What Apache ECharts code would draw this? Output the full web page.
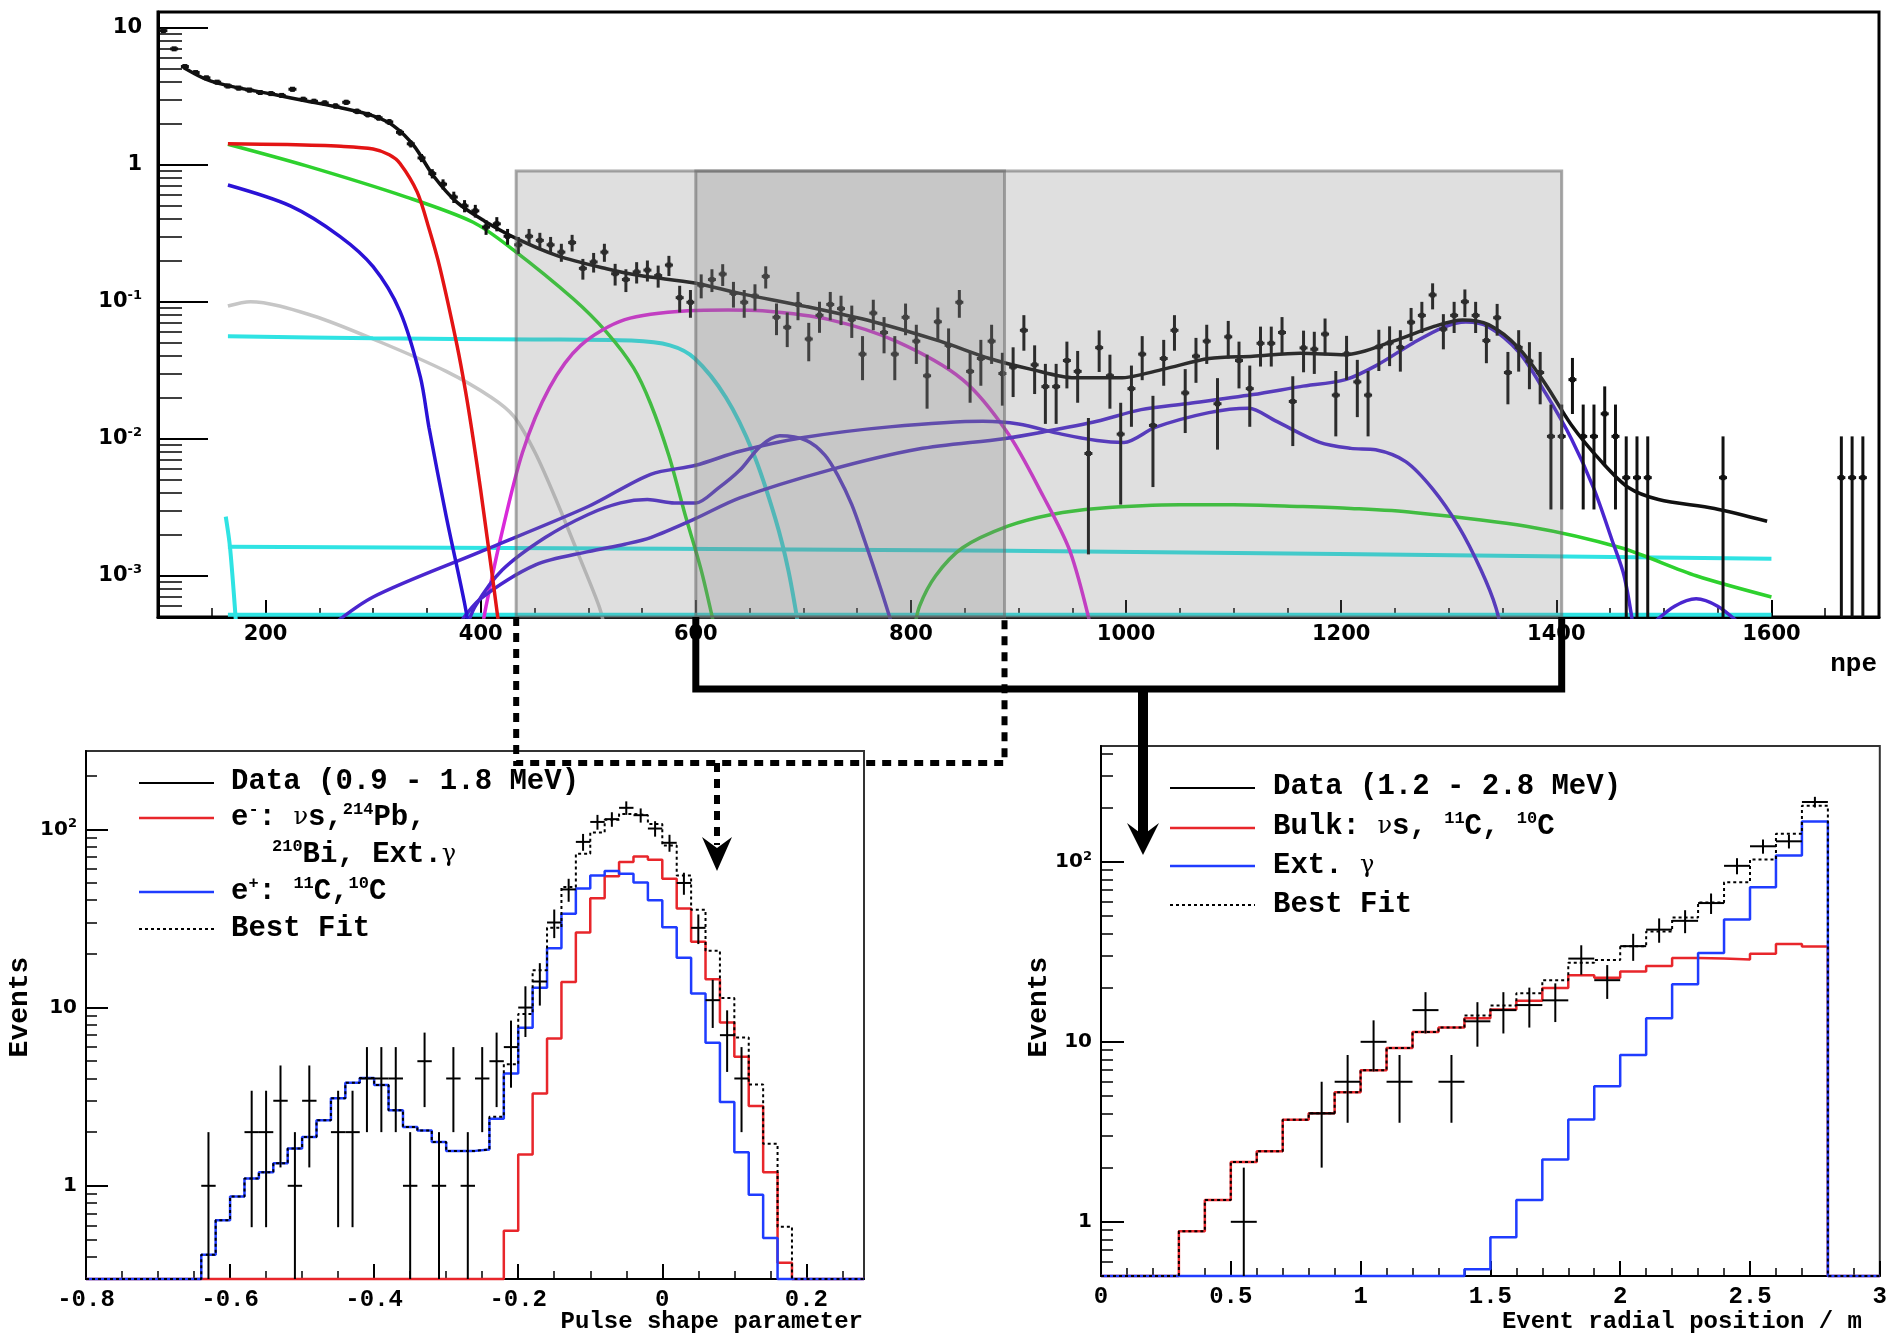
<!DOCTYPE html>
<html>
<head>
<meta charset="utf-8">
<title>npe spectrum, pulse shape and radial fits</title>
<script src="https://cdn.jsdelivr.net/npm/echarts@6.0.0/dist/echarts.min.js"></script>
<style>
  html, body { margin: 0; padding: 0; background: #fff; }
  #main { width: 1890px; height: 1336px; }
</style>
</head>
<body>
<div id="main"></div>
<script>
// ---------- top panel: spectrum in npe, 10 npe bins starting at 100 ----------
var npeBinLow = 100;
var npeBinWidth = 10;
var npeOneCount = 0.0052;   // rate that one event gives in a bin
var npeRate = [
  9.5, 7.0, 5.2, 4.7, 4.3, 4.0, 3.75, 3.62, 3.5, 3.36,
  3.3, 3.2, 3.55, 3.0, 2.9, 2.82, 2.68, 2.85, 2.45, 2.32,
  2.2, 2.05, 1.72, 1.42, 1.12, 0.86, 0.72, 0.58, 0.50, 0.46,
  0.35, 0.37, 0.30, 0.26, 0.30, 0.28, 0.26, 0.23, 0.27, 0.175,
  0.195, 0.23, 0.16, 0.145, 0.165, 0.17, 0.155, 0.185, 0.107, 0.099,
  0.132, 0.145, 0.159, 0.115, 0.099, 0.110, 0.153, 0.077, 0.065, 0.0955,
  0.0534, 0.0796, 0.0955, 0.089, 0.074, 0.0414, 0.0826, 0.0596, 0.0414, 0.0769,
  0.0515, 0.0288, 0.0714, 0.048, 0.099, 0.031, 0.0385, 0.0515, 0.0299, 0.0333,
  0.0618, 0.0346, 0.024, 0.024, 0.0372, 0.031, 0.0078, 0.0462, 0.0288, 0.0108,
  0.0232, 0.0414, 0.0125, 0.0385, 0.0618, 0.0216, 0.040, 0.0515, 0.018, 0.0554,
  0.0372, 0.0232, 0.0497, 0.0497, 0.0596, 0.0187, 0.046, 0.045, 0.058, 0.0208,
  0.0416, 0.026, 0.0208, 0.0468, 0.050, 0.0464, 0.0708, 0.0794, 0.112, 0.063,
  0.0794, 0.100, 0.0794, 0.052, 0.0764, 0.0304, 0.0464, 0.0368, 0.0304, 0.0104,
  0.0104, 0.027, 0.0104, 0.0104, 0.0152, 0.0104, 0.0052, 0.0052, 0.0052, 0,
  0, 0, 0, 0, 0, 0.0052, 0, 0, 0, 0,
  0, 0, 0, 0, 0, 0, 0.0052, 0.0052, 0.0052, 0
];

// fit components, [npe, rate]
var fitTotal = [[124,5.1],[145,4.19],[167,3.74],[207,3.26],[238,2.91],[269,2.61],[300,2.27],[319,1.92],[338,1.37],[356,0.83],[378,0.53],[403,0.39],[434,0.287],[471,0.217],[517,0.174],[548,0.155],[599,0.137],[641,0.115],[703,0.092],[765,0.0714],[827,0.0515],[873,0.0385],[911,0.0322],[952,0.0278],[994,0.0278],[1035,0.0322],[1077,0.0385],[1118,0.040],[1162,0.042],[1204,0.041],[1250,0.052],[1285,0.0655],[1313,0.0735],[1337,0.068],[1365,0.046],[1390,0.025],[1414,0.0126],[1442,0.0068],[1467,0.0044],[1495,0.0036],[1547,0.0031],[1596,0.0025]];
var fitRed = [[165,1.42],[220,1.40],[270,1.36],[300,1.30],[315,1.18],[325,1.02],[341,0.63],[352,0.34],[362,0.178],[378,0.048],[386,0.022],[393,0.01],[400,0.0042],[406,0.0019],[412,0.00085],[418,0.00037]];
var fitGreenLow = [[165,1.41],[238,0.98],[331,0.58],[393,0.38],[430,0.24],[486,0.105],[517,0.06],[542,0.033],[558,0.018],[575,0.0075],[590,0.0028],[605,0.0011],[618,0.0004]];
var fitGreenHigh = [[803,0.0004],[808,0.0006],[823,0.001],[848,0.0016],[890,0.0023],[931,0.0028],[973,0.0031],[1050,0.0033],[1100,0.0033],[1162,0.0032],[1209,0.0031],[1267,0.0029],[1372,0.0023],[1460,0.0016],[1530,0.001],[1600,0.0007]];
var fitBlueLow = [[165,0.71],[223,0.5],[269,0.3],[300,0.18],[325,0.085],[344,0.028],[352,0.012],[368,0.0027],[385,0.00063],[392,0.0003]];
var fitGray = [[165,0.093],[186,0.1],[244,0.079],[306,0.051],[368,0.031],[410,0.02],[431,0.0145],[451,0.0078],[472,0.0033],[493,0.0013],[510,0.0006],[516,0.0004]];
var fitCyanHigh = [[165,0.056],[300,0.054],[450,0.053],[540,0.052],[576,0.048],[599,0.0385],[628,0.02],[653,0.008],[674,0.0026],[686,0.0011],[696,0.0004]];
var fitCyanFlat = [[165,0.00163],[890,0.00152],[1600,0.00133]];
var fitCyanSpike = [[163,0.0027],[167,0.0016],[173,0.0004]];
var fitCyanFloor = [[165,0.00052],[1600,0.00052]];
var fitMagenta = [[401,0.0004],[405,0.0006],[418,0.0018],[439,0.008],[464,0.0236],[493,0.048],[534,0.074],[593,0.086],[630,0.087],[662,0.0857],[724,0.074],[786,0.0515],[848,0.027],[890,0.011],[923,0.0038],[948,0.0015],[968,0.0004]];
var fitIndigoWave = [[256,0.0004],[300,0.0007],[400,0.0015],[500,0.0032],[558,0.0055],[600,0.0064],[641,0.0081],[700,0.0102],[780,0.0122],[867,0.0134],[900,0.0128],[940,0.0108],[973,0.0097],[998,0.0094],[1027,0.0121],[1077,0.0155],[1114,0.0167],[1139,0.0135],[1180,0.0094],[1209,0.0085],[1232,0.0083],[1260,0.0068],[1285,0.0043],[1309,0.0023],[1330,0.0011],[1344,0.00058],[1352,0.0003]];
var fitIndigoHump = [[386,0.0004],[395,0.0006],[420,0.0011],[460,0.0019],[500,0.0028],[530,0.0034],[555,0.0036],[580,0.0034],[600,0.0034],[620,0.0043],[641,0.0059],[660,0.0088],[678,0.0105],[703,0.0097],[720,0.0076],[732,0.0054],[745,0.0033],[757,0.0018],[772,0.0008],[784,0.0004]];
var fitIndigoPeak = [[376,0.0004],[400,0.00068],[451,0.0012],[500,0.0015],[534,0.0017],[558,0.0019],[599,0.0026],[641,0.0037],[724,0.0059],[807,0.0084],[886,0.0100],[923,0.0112],[973,0.0134],[1014,0.0163],[1056,0.018],[1118,0.021],[1162,0.024],[1204,0.027],[1232,0.034],[1267,0.05],[1295,0.065],[1316,0.071],[1337,0.0655],[1365,0.043],[1390,0.0215],[1414,0.01],[1435,0.0043],[1452,0.0018],[1463,0.001],[1472,0.0004]];
var fitIndigoTail = [[1490,0.00045],[1510,0.0006],[1530,0.00068],[1550,0.0006],[1570,0.00045]];

// energy windows shaded on the spectrum (npe)
var psdWindow = [433, 887];
var radialWindow = [600, 1405];
var windowTop = 0.9;

// ---------- bottom left: pulse shape parameter, 0.02 bins from -0.8 ----------
var psdBinLow = -0.8;
var psdBinWidth = 0.02;
var psdCounts = [
  0, 0, 0, 0, 0, 0, 0, 0, 1, 0,
  0, 2, 2, 3, 1, 3, 0, 2, 2, 4,
  4, 4, 1, 5, 1, 4, 1, 4, 5, 6,
  10, 14, 30, 46, 85, 110, 114, 132, 120, 101,
  84, 50, 28, 11, 7, 4, 0, 0, 0, 0,
  0, 0, 0, 0
];
var psdElectron = [
  0, 0, 0, 0, 0, 0, 0, 0, 0, 0,
  0, 0, 0, 0, 0, 0, 0, 0, 0, 0,
  0, 0, 0, 0, 0, 0, 0, 0, 0, 0.56,
  1.5, 3.3, 6.7, 13.9, 26.4, 41, 54.5, 65.5, 70.3, 67.5,
  52.8, 36, 23.4, 14.4, 8.25, 5.3, 2.8, 1.19, 0.37, 0,
  0, 0, 0, 0
];
var psdPositron = [
  0, 0, 0, 0, 0, 0, 0, 0, 0.41, 0.64,
  0.87, 1.10, 1.19, 1.34, 1.62, 1.88, 2.33, 3.10, 3.78, 4.03,
  3.68, 2.65, 2.14, 2.04, 1.76, 1.57, 1.57, 1.60, 2.38, 4.27,
  7.7, 12.9, 21.5, 33.6, 46.5, 55.1, 58.3, 56.3, 50.3, 40.0,
  28.2, 19.0, 12.0, 6.35, 2.95, 1.54, 0.89, 0.51, 0, 0,
  0, 0, 0, 0
];
var psdBestFit = [
  0, 0, 0, 0, 0, 0, 0, 0, 0.41, 0.64,
  0.87, 1.10, 1.19, 1.34, 1.62, 1.88, 2.33, 3.10, 3.78, 4.03,
  3.68, 2.65, 2.14, 2.04, 1.76, 1.57, 1.57, 1.60, 2.44, 4.8,
  9.2, 16.2, 28, 47.5, 73, 96, 113, 122, 120, 107,
  81, 55, 35.4, 20.8, 11.3, 6.8, 3.7, 1.72, 0.59, 0,
  0, 0, 0, 0
];

// ---------- bottom right: event radius, 0.1 m bins from 0 ----------
var radBinLow = 0;
var radBinWidth = 0.1;
var radCounts = [0, 0, 0, 0, 0, 1, 0, 0, 4, 6, 10, 6, 15, 6, 13, 15, 16, 17, 29, 22, 34, 42, 47, 59, 95, 122, 130, 215, 0, 0];
var radBulk = [0, 0, 0, 0.885, 1.32, 2.15, 2.47, 3.69, 4.01, 5.25, 6.96, 9.25, 11.35, 12.0, 13.5, 15.1, 16.9, 19.9, 23.4, 22.7, 24.6, 26.4, 29.2, 29.0, 28.7, 30.9, 34.9, 33.8, 0, 0];
var radExternal = [0, 0, 0, 0, 0, 0, 0, 0, 0, 0, 0, 0, 0, 0, 0.545, 0.82, 1.32, 2.22, 3.7, 5.67, 8.45, 13.5, 20.9, 31.1, 47.8, 72.2, 108.5, 167.5, 0, 0];
var radBestFit = [0, 0, 0, 0.885, 1.32, 2.15, 2.47, 3.69, 4.01, 5.25, 6.96, 9.25, 11.35, 12.0, 14.0, 15.9, 18.6, 22.0, 27.5, 28.5, 34.0, 41.0, 49.0, 59.5, 77, 103, 143, 205, 0, 0];

// axis ticks
var npeTicks = [200, 400, 600, 800, 1000, 1200, 1400, 1600];
var powerTicks = [0.001, 0.01, 0.1, 1, 10, 100];
var psdTicks = [-0.8, -0.6, -0.4, -0.2, 0, 0.2];
var radTicks = [0, 0.5, 1, 1.5, 2, 2.5, 3];

var TOP_YMIN = 5e-4, TOP_YMAX = 13;
var PSD_YMIN = 0.3, PSD_YMAX = 275;
var RAD_YMIN = 0.5, RAD_YMAX = 440;

// ---------- helpers ----------
function logMinors(lo, hi) {
  var out = [];
  for (var e = -4; e <= 3; e++) {
    for (var k = 2; k <= 9; k++) {
      var v = k * Math.pow(10, e);
      if (v > lo * 1.0001 && v < hi) out.push(+v.toPrecision(3));
    }
  }
  return out;
}
function linMinors(lo, hi, step, majorStep) {
  var out = [];
  var n = Math.round((hi - lo) / step);
  for (var i = 0; i <= n; i++) {
    var v = +(lo + i * step).toFixed(4);
    var r = v / majorStep;
    if (Math.abs(r - Math.round(r)) > 1e-6) out.push(v);
  }
  return out;
}
function histPoints(values, low, width, floor) {
  var pts = values.map(function (v, i) { return [low + i * width, v > 0 ? v : floor]; });
  var last = values[values.length - 1];
  pts.push([low + values.length * width, last > 0 ? last : floor]);
  return pts;
}
function countPoints(counts, low, width, floor) {
  var pts = [];
  counts.forEach(function (n, i) {
    if (n <= 0) return;
    var e = Math.sqrt(n);
    pts.push([low + (i + 0.5) * width, n, Math.max(n - e, floor), n + e, width / 2]);
  });
  return pts;
}
function ratePoints() {
  var pts = [];
  npeRate.forEach(function (v, i) {
    if (v <= 0) return;
    var e = Math.sqrt(v * npeOneCount);
    pts.push([npeBinLow + (i + 0.5) * npeBinWidth, v, Math.max(v - e, TOP_YMIN), v + e]);
  });
  return pts;
}

var monoBold = 'Liberation Mono';
var sansBold = 'DejaVu Sans';

function supLabel(fs, ss) {
  return {
    b: { fontFamily: sansBold, fontWeight: 'bold', fontSize: fs, color: '#000', lineHeight: fs + 4 },
    s: { fontFamily: sansBold, fontWeight: 'bold', fontSize: ss, color: '#000', verticalAlign: 'top', lineHeight: ss }
  };
}
function powLabel(v) {
  var e = Math.round(Math.log10(v));
  if (e === 0) return '{b|1}';
  if (e === 1) return '{b|10}';
  return '{b|10}{s|' + e + '}';
}

function xMajor(grid, min, max, ticks, len, fmt, font, fs, margin, lw) {
  return {
    type: 'value', gridIndex: grid, min: min, max: max, position: 'bottom',
    axisLine: { show: true, onZero: false, lineStyle: { color: '#000', width: lw } },
    axisTick: { show: true, inside: true, length: len, customValues: ticks, lineStyle: { color: '#000', width: 2 } },
    axisLabel: { show: true, customValues: ticks, formatter: fmt, fontFamily: font, fontWeight: 'bold', fontSize: fs, color: '#000', margin: margin },
    splitLine: { show: false }
  };
}
function xMinor(grid, min, max, ticks, len) {
  return {
    type: 'value', gridIndex: grid, min: min, max: max, position: 'bottom',
    axisLine: { show: false, onZero: false },
    axisTick: { show: true, inside: true, length: len, customValues: ticks, lineStyle: { color: '#000', width: 1.5 } },
    axisLabel: { show: false },
    splitLine: { show: false }
  };
}
function yMajor(grid, min, max, len, fs, ss, margin, lw) {
  var ticks = powerTicks.filter(function (v) { return v >= min && v <= max; });
  return {
    type: 'log', logBase: 10, gridIndex: grid, min: min, max: max, position: 'left',
    axisLine: { show: true, onZero: false, lineStyle: { color: '#000', width: lw } },
    axisTick: { show: true, inside: true, length: len, customValues: ticks, lineStyle: { color: '#000', width: 2 } },
    axisLabel: { show: true, margin: margin, customValues: ticks, formatter: powLabel, rich: supLabel(fs, ss) },
    splitLine: { show: false }
  };
}
function yMinor(grid, min, max, len) {
  return {
    type: 'log', logBase: 10, gridIndex: grid, min: min, max: max, position: 'left',
    axisLine: { show: false, onZero: false },
    axisTick: { show: true, inside: true, length: len, customValues: logMinors(min, max), lineStyle: { color: '#000', width: 1.5 } },
    axisLabel: { show: false },
    splitLine: { show: false }
  };
}

function curve(data, color, width, z) {
  return {
    type: 'line', xAxisIndex: 0, yAxisIndex: 0, data: data,
    showSymbol: false, smooth: 0.3, clip: true, silent: true,
    lineStyle: { color: color, width: width || 3.5 }, z: z || 3
  };
}
function hist(ax, values, low, width, floor, color, lw, dash, z) {
  return {
    type: 'line', xAxisIndex: ax, yAxisIndex: ax, step: 'end', clip: false, silent: true,
    data: histPoints(values, low, width, floor), showSymbol: false,
    lineStyle: { color: color, width: lw, type: dash || 'solid' }, z: z
  };
}
function countBars(ax, pts) {
  return {
    type: 'custom', xAxisIndex: ax, yAxisIndex: ax, data: pts, z: 6, silent: true,
    encode: { x: 0, y: 1 },
    renderItem: function (params, api) {
      var x = api.value(0), y = api.value(1), hw = api.value(4);
      var p = api.coord([x, y]), lo = api.coord([x, api.value(2)]), hi = api.coord([x, api.value(3)]);
      var a = api.coord([x - hw, y]), b = api.coord([x + hw, y]);
      return { type: 'group', children: [
        { type: 'line', shape: { x1: p[0], y1: hi[1], x2: p[0], y2: lo[1] }, style: { stroke: '#000', lineWidth: 2 } },
        { type: 'line', shape: { x1: a[0], y1: p[1], x2: b[0], y2: p[1] }, style: { stroke: '#000', lineWidth: 2 } }
      ] };
    }
  };
}

var chart = echarts.init(document.getElementById('main'), null, { renderer: 'canvas' });

var series = [
  curve(fitGray, '#c6c6c6', 3.5, 2),
  curve(fitCyanHigh, '#2fe3e3', 4, 3),
  curve(fitCyanFlat, '#2fe3e3', 4, 3),
  curve(fitCyanSpike, '#2fe3e3', 4, 3),
  curve(fitCyanFloor, '#2fe3e3', 4, 3),
  curve(fitGreenLow, '#2ed12e', 3.5, 3),
  curve(fitGreenHigh, '#2ed12e', 3.5, 3),
  curve(fitMagenta, '#d92ad9', 3.5, 3),
  curve(fitIndigoWave, '#4a26cf', 3.5, 3),
  curve(fitIndigoHump, '#4a26cf', 3.5, 3),
  curve(fitIndigoPeak, '#4a26cf', 3.5, 3),
  curve(fitIndigoTail, '#4a26cf', 3.5, 3),
  curve(fitBlueLow, '#2a12d6', 3.5, 3),
  curve(fitRed, '#e31414', 3.5, 3),
  curve(fitTotal, '#111', 3.5, 4),
  {
    type: 'custom', xAxisIndex: 0, yAxisIndex: 0, data: ratePoints(), z: 5, silent: true,
    encode: { x: 0, y: 1 },
    renderItem: function (params, api) {
      var x = api.value(0);
      var p = api.coord([x, api.value(1)]), lo = api.coord([x, api.value(2)]), hi = api.coord([x, api.value(3)]);
      return { type: 'group', children: [
        { type: 'line', shape: { x1: p[0], y1: hi[1], x2: p[0], y2: lo[1] }, style: { stroke: '#111', lineWidth: 3 } },
        { type: 'line', shape: { x1: p[0] - 4, y1: p[1], x2: p[0] + 4, y2: p[1] }, style: { stroke: '#111', lineWidth: 3 } },
        { type: 'rect', shape: { x: p[0] - 2.5, y: p[1] - 2.5, width: 5, height: 5 }, style: { fill: '#111' } }
      ] };
    }
  },
  {
    type: 'custom', xAxisIndex: 0, yAxisIndex: 0, z: 10, silent: true,
    data: [[psdWindow[0], psdWindow[1], windowTop], [radialWindow[0], radialWindow[1], windowTop]],
    encode: { x: [0, 1], y: 2 },
    renderItem: function (params, api) {
      var a = api.coord([api.value(0), api.value(2)]);
      var b = api.coord([api.value(1), TOP_YMIN]);
      return {
        type: 'rect',
        shape: { x: a[0], y: a[1], width: b[0] - a[0], height: b[1] - a[1] },
        style: { fill: 'rgba(128,128,128,0.25)', stroke: 'rgba(100,100,100,0.55)', lineWidth: 3 }
      };
    }
  },
  // pulse shape panel
  hist(2, psdElectron, psdBinLow, psdBinWidth, PSD_YMIN, '#e8262b', 2.5, 'solid', 3),
  hist(2, psdPositron, psdBinLow, psdBinWidth, PSD_YMIN, '#1f3cff', 2.5, 'solid', 3),
  hist(2, psdBestFit, psdBinLow, psdBinWidth, PSD_YMIN, '#000', 2, [3, 3], 4),
  countBars(2, countPoints(psdCounts, psdBinLow, psdBinWidth, PSD_YMIN)),
  // radial panel
  hist(4, radBulk, radBinLow, radBinWidth, RAD_YMIN, '#e8262b', 2.5, 'solid', 3),
  hist(4, radExternal, radBinLow, radBinWidth, RAD_YMIN, '#1f3cff', 2.5, 'solid', 3),
  hist(4, radBestFit, radBinLow, radBinWidth, RAD_YMIN, '#000', 2, [3, 3], 4),
  countBars(4, countPoints(radCounts, radBinLow, radBinWidth, RAD_YMIN))
];

var numFmt = function (v) { return Math.abs(v) < 1e-9 ? '0' : String(+v.toFixed(1)); };

chart.setOption({
  animation: false,
  backgroundColor: '#fff',
  grid: [
    { left: 158, top: 12, width: 1721, height: 605, show: true, borderColor: '#000', borderWidth: 3 },
    { left: 86, top: 751, width: 778, height: 528, show: true, borderColor: '#333', borderWidth: 2 },
    { left: 1101, top: 746, width: 779, height: 530, show: true, borderColor: '#333', borderWidth: 2 }
  ],
  xAxis: [
    xMajor(0, 100, 1700, npeTicks, 17, function (v) { return String(v); }, sansBold, 21, 7, 3),
    xMinor(0, 100, 1700, linMinors(150, 1650, 50, 200), 9),
    xMajor(1, -0.8, 0.28, psdTicks, 15, numFmt, monoBold, 24, 9, 2),
    xMinor(1, -0.8, 0.28, linMinors(-0.75, 0.25, 0.05, 0.2), 8),
    xMajor(2, 0, 3, radTicks, 15, numFmt, monoBold, 24, 9, 2),
    xMinor(2, 0, 3, linMinors(0.1, 2.9, 0.1, 0.5), 8)
  ],
  yAxis: [
    yMajor(0, TOP_YMIN, TOP_YMAX, 50, 21, 13, 16, 3),
    yMinor(0, TOP_YMIN, TOP_YMAX, 24),
    yMajor(1, PSD_YMIN, PSD_YMAX, 22, 20, 13, 9, 2),
    yMinor(1, PSD_YMIN, PSD_YMAX, 11),
    yMajor(2, RAD_YMIN, RAD_YMAX, 23, 20, 13, 9, 2),
    yMinor(2, RAD_YMIN, RAD_YMAX, 12)
  ],
  series: series
});

// ---------- texts, legends and the connecting brackets ----------
var legendRich = {
  t: { fontFamily: monoBold, fontWeight: 'bold', fontSize: 29, lineHeight: 34, fill: '#000' },
  s: { fontFamily: monoBold, fontWeight: 'bold', fontSize: 17, lineHeight: 17, verticalAlign: 'top', fill: '#000' },
  g: { fontFamily: 'DejaVu Serif', fontSize: 24, lineHeight: 34, fill: '#000' }
};
function richText(x, y, text) {
  return { type: 'text', x: x, y: y, z: 20, silent: true,
    style: { text: text, rich: legendRich, fill: '#000', font: 'bold 29px "Liberation Mono"', align: 'left', verticalAlign: 'middle', textAlign: 'left', textVerticalAlign: 'middle' } };
}
function plainText(x, y, text, size, align, rot) {
  return { type: 'text', x: x, y: y, z: 20, silent: true, rotation: rot || 0,
    style: { text: text, fill: '#000', font: 'bold ' + size + 'px "Liberation Mono"', align: align, verticalAlign: 'middle', textAlign: align, textVerticalAlign: 'middle' } };
}
function seg(x1, y1, x2, y2, color, w, dash) {
  return { type: 'line', z: 20, silent: true, shape: { x1: x1, y1: y1, x2: x2, y2: y2 }, style: { stroke: color, lineWidth: w, lineDash: dash || null } };
}

function npeX(v) { return chart.convertToPixel({ xAxisIndex: 0, yAxisIndex: 0 }, [v, 1])[0]; }
var axisY = 617;
var xa = npeX(psdWindow[0]), xb = npeX(psdWindow[1]);
var xc = npeX(radialWindow[0]), xd = npeX(radialWindow[1]);
var dotted = [9, 7];

var graphics = [
  plainText(1877, 664, 'npe', 26, 'right'),
  // dotted bracket to pulse shape panel
  { type: 'polyline', z: 21, silent: true, shape: { points: [[xa, axisY], [xa, 763], [xb, 763], [xb, axisY]] }, style: { stroke: '#000', lineWidth: 6, lineDash: dotted, fill: null } },
  seg(717, 763, 717, 845, '#000', 6, dotted),
  { type: 'polygon', z: 21, silent: true, shape: { points: [[717, 871], [702, 837], [717, 848], [732, 837]] }, style: { fill: '#000' } },
  // solid bracket to radial panel
  { type: 'polyline', z: 21, silent: true, shape: { points: [[xc, axisY], [xc, 689], [xd, 689], [xd, axisY]] }, style: { stroke: '#000', lineWidth: 7, fill: null } },
  seg(1143, 689, 1143, 836, '#000', 10),
  { type: 'polygon', z: 21, silent: true, shape: { points: [[1143, 855], [1127, 823], [1143, 835], [1159, 823]] }, style: { fill: '#000' } },

  // pulse shape legend
  seg(139, 783, 214, 783, '#000', 2),
  seg(139, 818, 214, 818, '#e8262b', 2.5),
  seg(139, 892, 214, 892, '#1f3cff', 2.5),
  seg(139, 929, 214, 929, '#000', 2, [3, 3]),
  richText(231, 782, '{t|Data (0.9 - 1.8 MeV)}'),
  richText(231, 818, '{t|e}{s|-}{t|: }{g|ν}{t|s,}{s|214}{t|Pb,}'),
  richText(272, 855, '{s|210}{t|Bi, Ext.}{g|γ}'),
  richText(231, 892, '{t|e}{s|+}{t|: }{s|11}{t|C,}{s|10}{t|C}'),
  richText(231, 929, '{t|Best Fit}'),
  plainText(20, 1007, 'Events', 28, 'center', Math.PI / 2),
  plainText(863, 1322, 'Pulse shape parameter', 24, 'right'),

  // radial legend
  seg(1170, 788, 1255, 788, '#000', 2),
  seg(1170, 828, 1255, 828, '#e8262b', 2.5),
  seg(1170, 866, 1255, 866, '#1f3cff', 2.5),
  seg(1170, 905, 1255, 905, '#000', 2, [3, 3]),
  richText(1273, 787, '{t|Data (1.2 - 2.8 MeV)}'),
  richText(1273, 827, '{t|Bulk: }{g|ν}{t|s, }{s|11}{t|C, }{s|10}{t|C}'),
  richText(1273, 866, '{t|Ext. }{g|γ}'),
  richText(1273, 905, '{t|Best Fit}'),
  plainText(1039, 1007, 'Events', 28, 'center', Math.PI / 2),
  plainText(1862, 1322, 'Event radial position / m', 24, 'right')
];

chart.setOption({ graphic: graphics });
</script>
</body>
</html>
